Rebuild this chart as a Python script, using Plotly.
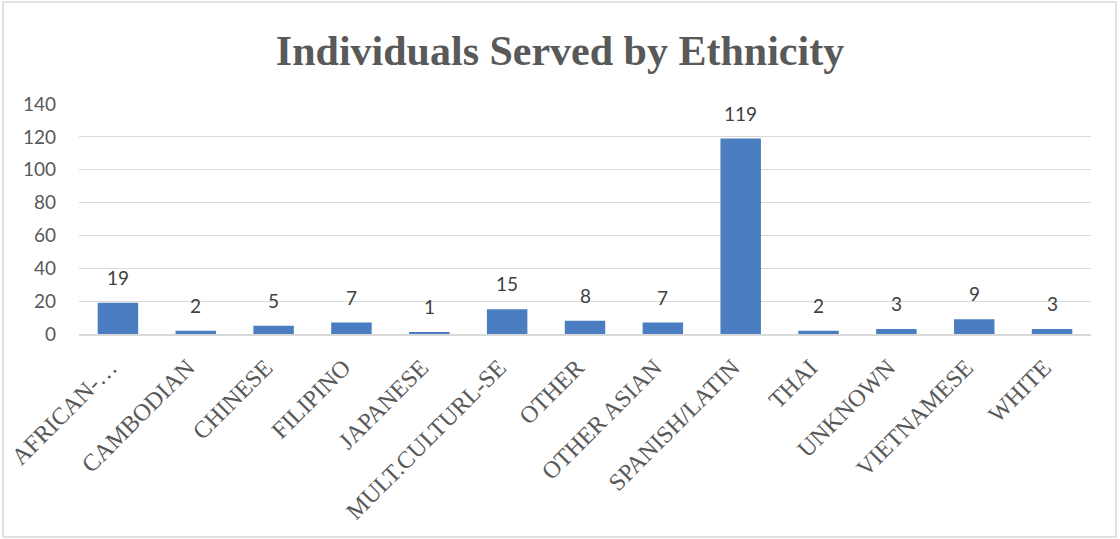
import plotly.graph_objects as go

categories = ["AFRICAN-…", "CAMBODIAN", "CHINESE", "FILIPINO", "JAPANESE",
              "MULT.CULTURL-SE", "OTHER", "OTHER ASIAN", "SPANISH/LATIN",
              "THAI", "UNKNOWN", "VIETNAMESE", "WHITE"]
values = [19, 2, 5, 7, 1, 15, 8, 7, 119, 2, 3, 9, 3]
y_ticks = [0, 20, 40, 60, 80, 100, 120, 140]

W, H = 1120, 539
L, R, T, B = 79, 29, 104, 205
pw, ph = W - L - R, H - T - B

fig = go.Figure()
fig.add_trace(go.Bar(
    x=categories, y=values,
    marker=dict(color="#4b7ec1", line=dict(width=0)),
    hoverinfo="x+y",
))

for c, v in zip(categories, values):
    fig.add_annotation(x=c, y=v, text=str(v), showarrow=False,
                       yanchor="bottom", yshift=12,
                       font=dict(family="Lato, Carlito, sans-serif", size=19, color="#404040"))

# outer chart border
fig.add_shape(type="rect", xref="paper", yref="paper",
              x0=(3 - L) / pw, x1=(W - 4 - L) / pw,
              y0=(T + ph - (H - 2)) / ph, y1=(T + ph - 2) / ph,
              line=dict(color="#d9d9d9", width=1.5), fillcolor="rgba(0,0,0,0)", layer="below")

fig.update_layout(
    width=W, height=H,
    margin=dict(l=L, r=R, t=T, b=B, autoexpand=False),
    paper_bgcolor="white", plot_bgcolor="white",
    bargap=0.48,
    showlegend=False,
    title=dict(text="<b>Individuals Served by Ethnicity</b>", x=0.5, xanchor="center",
               y=1 - 50 / H, yanchor="middle",
               font=dict(family="Liberation Serif, Times New Roman, serif", size=42, color="#595959")),
    xaxis=dict(tickangle=-45, showgrid=False, showline=True, linecolor="#d9d9d9", linewidth=2,
               ticks="", ticklabelstandoff=8, ticklabelshift=-8, automargin=False,
               tickfont=dict(family="Liberation Serif, Times New Roman, serif", size=24, color="#595959")),
    yaxis=dict(range=[0, 140], tickvals=y_ticks, showgrid=True, gridcolor="#d9d9d9", gridwidth=1,
               zeroline=False, showline=False, ticks="", ticklabelstandoff=22, automargin=False,
               tickfont=dict(family="Lato, Carlito, sans-serif", size=19, color="#595959")),
)

fig.write_html("out.html", config={"displayModeBar": False},
               post_script="document.body.style.margin='0';")
